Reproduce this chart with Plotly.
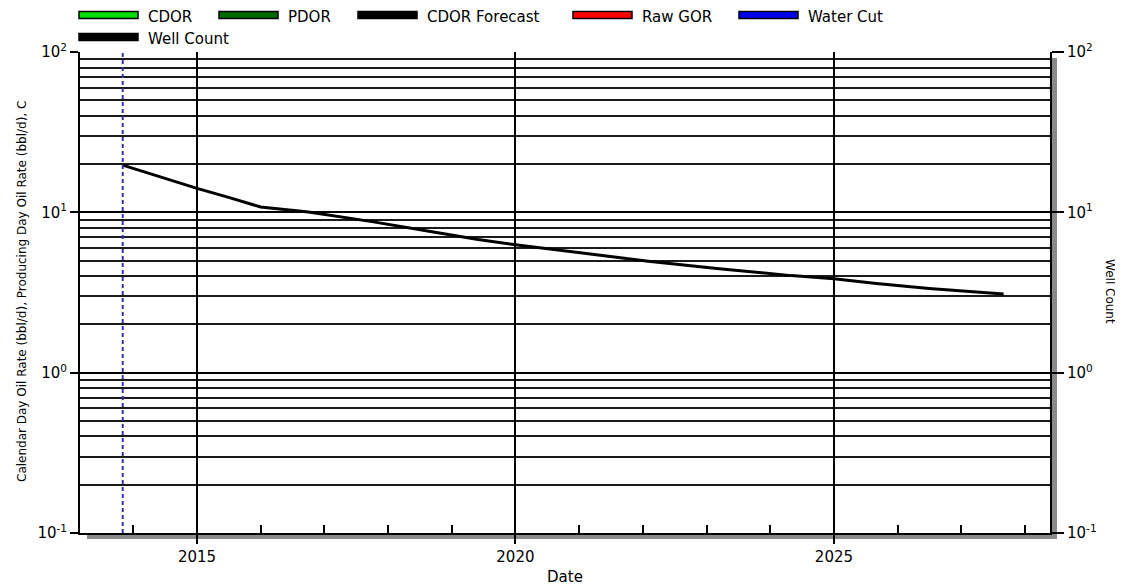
import plotly.graph_objects as go

# ---------------- data ----------------
forecast_dates = ["2013-11-01", "2014-06-01", "2015-01-01", "2015-07-01", "2016-01-01",
                  "2016-10-01", "2017-10-01", "2018-09-01", "2019-06-01", "2020-01-01",
                  "2021-05-01", "2022-02-01", "2023-03-01", "2024-05-01", "2025-01-01",
                  "2025-09-01", "2026-07-01", "2027-09-01"]
cdor_forecast = [19.7, 16.6, 14.1, 12.4, 10.8,
                 10.05, 8.75, 7.6, 6.76, 6.28,
                 5.39, 4.96, 4.47, 4.03, 3.85,
                 3.6, 3.35, 3.1]

legend_names = ["CDOR", "PDOR", "CDOR Forecast", "Raw GOR", "Water Cut", "Well Count"]
legend_colors = ["#00dd00", "#006a00", "#000000", "#ff0000", "#0000ee", "#000000"]

year_labels = ["2015", "2020", "2025"]
minor_years = [str(y) for y in range(2014, 2029)]
decade_vals = [0.1, 1, 10, 100]
decade_text = ["10<sup>-1</sup>", "10<sup>0</sup>", "10<sup>1</sup>", "10<sup>2</sup>"]
minor_vals = [m * d for d in [0.1, 1, 10] for m in range(2, 10)]

FONT = "DejaVu Sans"

# ---------------- geometry (page pixels) ----------------
W, H = 1123, 586          # browser window
OX, OY = 8, 8             # default body margin of the html page
L, R, T, B = 80, 1050, 52, 533   # plot area in page pixels


def px(x):
    return (x - L) / (R - L)


def py(y):
    return (B - y) / (B - T)


fig = go.Figure()

# empty series (no data visible in reference)
for name, col in zip(legend_names, legend_colors):
    if name == "CDOR Forecast":
        continue
    fig.add_trace(go.Scatter(x=[], y=[], mode="lines", name=name,
                             line=dict(color=col, width=3), showlegend=False,
                             yaxis="y2" if name == "Well Count" else "y"))

fig.add_trace(go.Scatter(x=forecast_dates, y=cdor_forecast, mode="lines",
                         name="CDOR Forecast", line=dict(color="#000000", width=3),
                         showlegend=False))

shapes = []
annotations = []

# forecast-start marker
shapes.append(dict(type="line", xref="x", yref="paper", x0=forecast_dates[0], x1=forecast_dates[0],
                   y0=0, y1=1, line=dict(color="#3333aa", width=2, dash="4px,3px")))

# drop shadow of the chart frame
shapes.append(dict(type="rect", xref="paper", yref="paper", x0=px(87), x1=px(1057),
                   y0=py(539), y1=py(534), fillcolor="#8a8a8a", line=dict(width=0), layer="below"))
shapes.append(dict(type="rect", xref="paper", yref="paper", x0=px(1051), x1=px(1057),
                   y0=py(539), y1=py(58), fillcolor="#8a8a8a", line=dict(width=0), layer="below"))

# manual legend (swatch centre y, text centre y)
leg_x = [79, 219, 358, 573, 739, 79]
leg_sy = [15, 15, 15, 15, 15, 37]
leg_ty = [17, 17, 17, 17, 17, 38.5]
for name, col, lx, sy, ty in zip(legend_names, legend_colors, leg_x, leg_sy, leg_ty):
    shapes.append(dict(type="rect", xref="paper", yref="paper", x0=px(lx), x1=px(lx + 59),
                       y0=py(sy + 3.5), y1=py(sy - 3.5), fillcolor=col,
                       line=dict(color="#000000", width=1.5)))
    annotations.append(dict(text=name, xref="paper", yref="paper", x=px(lx + 68), y=py(ty),
                            xanchor="left", yanchor="middle", showarrow=False, borderpad=0,
                            font=dict(family=FONT, size=15, color="#000000")))

# axis titles
annotations.append(dict(text="Calendar Day Oil Rate (bbl/d), Producing Day Oil Rate (bbl/d), C",
                        xref="paper", yref="paper", x=px(22), y=py(292), textangle=-90,
                        xanchor="center", yanchor="middle", showarrow=False,
                        font=dict(family=FONT, size=12, color="#000000")))
annotations.append(dict(text="Well Count", xref="paper", yref="paper", x=px(1110), y=py(291),
                        textangle=90, xanchor="center", yanchor="middle", showarrow=False,
                        font=dict(family=FONT, size=12, color="#000000")))

fig.update_layout(
    width=W - OX, height=H - OY,
    margin=dict(l=L - OX, r=W - R, t=T - OY, b=H - B, pad=0, autoexpand=False),
    paper_bgcolor="white", plot_bgcolor="white",
    font=dict(family=FONT, size=15, color="#000000"),
    showlegend=False,
    shapes=shapes, annotations=annotations,
    xaxis=dict(
        type="date", range=["2013-03-01", "2028-05-24"],
        tickmode="array", tickvals=[y + "-01-01" for y in year_labels], ticktext=year_labels,
        ticks="outside", ticklen=9, tickwidth=1.5, tickcolor="#000000",
        showgrid=True, gridcolor="#000000", gridwidth=1.5,
        showline=True, linecolor="#000000", linewidth=2, mirror=False,
        zeroline=False,
        minor=dict(tickmode="array", tickvals=[y + "-01-01" for y in minor_years],
                   ticks="inside", ticklen=8, tickwidth=1.5, tickcolor="#000000", showgrid=False),
        title=dict(text="Date", font=dict(family=FONT, size=15), standoff=8),
        tickfont=dict(family=FONT, size=15),
    ),
    yaxis=dict(
        type="log", range=[-1, 2],
        tickmode="array", tickvals=decade_vals, ticktext=decade_text,
        ticks="outside", ticklen=8, tickwidth=1.5, tickcolor="#000000",
        showgrid=True, gridcolor="#000000", gridwidth=1.5,
        showline=True, linecolor="#000000", linewidth=2,
        zeroline=False,
        minor=dict(tickmode="array", tickvals=minor_vals, ticks="", showgrid=True,
                   gridcolor="#1a1a1a", gridwidth=1.5),
        tickfont=dict(family=FONT, size=15),
    ),
    yaxis2=dict(
        type="log", range=[-1, 2], overlaying="y", side="right", anchor="x",
        tickmode="array", tickvals=decade_vals, ticktext=decade_text,
        ticks="outside", ticklen=12, tickwidth=1.5, tickcolor="#000000",
        showgrid=False, showline=True, linecolor="#000000", linewidth=2,
        zeroline=False,
        tickfont=dict(family=FONT, size=15),
    ),
)

fig.write_html("out.html")
